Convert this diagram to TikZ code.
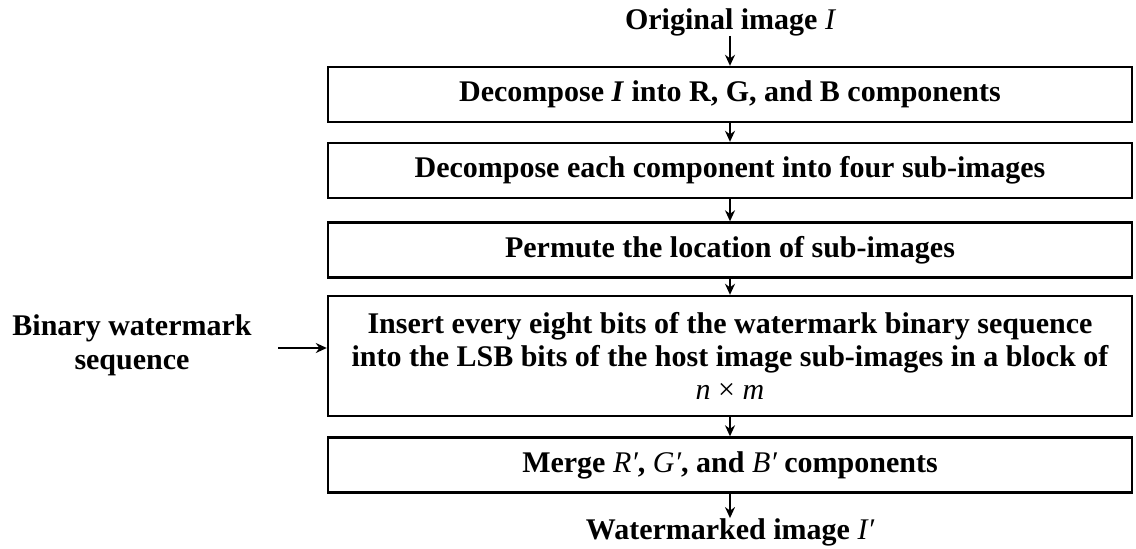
\documentclass[tikz,border=0pt]{standalone}
\usepackage{fontspec}
\setmainfont{Liberation Serif}
\usetikzlibrary{arrows.meta}
\begin{document}
\begin{tikzpicture}[x=1pt,y=-1pt,
  box/.style={draw,line width=2.4pt,minimum width=804pt,minimum height=55pt,inner sep=0pt,
    font=\fontsize{30}{33}\selectfont\bfseries,align=center},
  lbl/.style={font=\fontsize{30}{34}\selectfont\bfseries,align=center,inner sep=0pt},
  arr/.style={-{Stealth[length=11pt,width=10pt]},line width=2pt}]
\useasboundingbox (0,0) rectangle (1136,549);
\node[lbl] (orig) at (730,22) {Original image {\mdseries\itshape I}};
\node[box] (b1) at (730,94.5) {Decompose \textit{I} into R, G, and B components};
\node[box] (b2) at (730,170.5) {Decompose each component into four sub-images};
\node[box] (b3) at (730,250) {Permute the location of sub-images};
\node[box,minimum height=120pt] (b4) at (730,356) {Insert every eight bits of the watermark binary sequence\\
into the LSB bits of the host image sub-images in a block of\\
{\mdseries\itshape n} {\mdseries ×} {\mdseries\itshape m}};
\node[box] (b5) at (730,465) {Merge {\mdseries\itshape R′}, {\mdseries\itshape G′}, and {\mdseries\itshape B′} components};
\node[lbl] (water) at (730,532) {Watermarked image {\mdseries\itshape I′}};
\node[lbl] (bin) at (132,345) {Binary watermark\\sequence};
\coordinate (bs) at (278,348);
\draw[arr] (orig) -- (b1);
\draw[arr] (b1) -- (b2);
\draw[arr] (b2) -- (b3);
\draw[arr] (b3) -- (b4);
\draw[arr] (b4) -- (b5);
\draw[arr] (b5) -- (water);
\draw[arr] (bs) -- (bs -| b4.west);
\end{tikzpicture}
\end{document}
